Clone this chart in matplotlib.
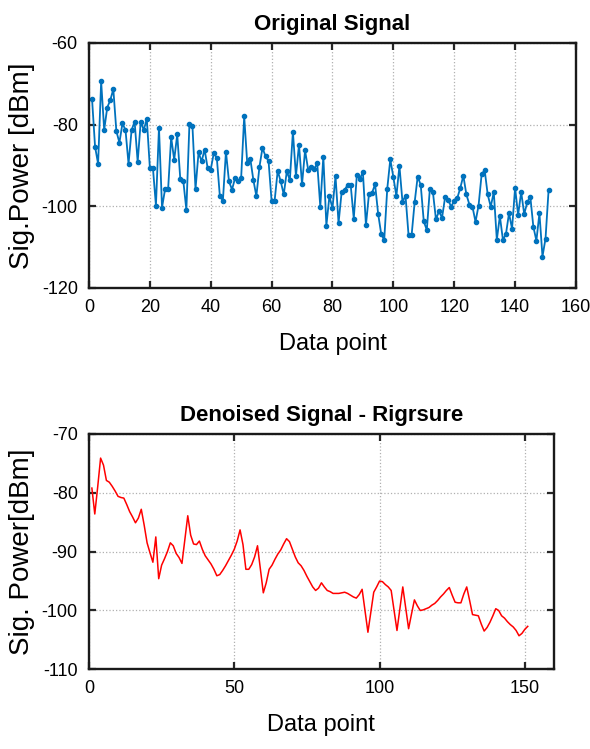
import numpy as np
import matplotlib
matplotlib.use('Agg')
from matplotlib import pyplot as plt

plt.rcParams['font.family'] = ['Liberation Sans', 'DejaVu Sans']
plt.rcParams['axes.unicode_minus'] = False

# raw measurements (dBm), points 1..151
original = [-73.6, -85.4, -89.6, -69.4, -81.3, -75.8, -74.0, -71.3, -81.6, -84.4,
            -79.7, -81.3, -89.6, -81.3, -79.3, -89.1, -79.3, -81.3, -78.6, -90.5,
            -90.5, -99.8, -80.7, -100.3, -95.8, -95.8, -83.1, -88.6, -82.4, -93.3,
            -93.8, -100.9, -79.9, -80.4, -95.8, -86.8, -89.0, -86.1, -90.7, -91.0,
            -87.0, -88.1, -97.5, -98.6, -86.6, -93.9, -95.9, -93.1, -93.9, -93.0,
            -78.0, -89.5, -88.3, -93.5, -97.5, -90.4, -85.7, -87.7, -88.9, -98.7,
            -98.6, -91.3, -93.9, -97.1, -91.4, -93.6, -81.7, -92.6, -84.9, -94.6,
            -86.3, -91.0, -90.4, -90.8, -89.5, -100.1, -87.8, -104.7, -97.5, -100.5,
            -92.6, -104.1, -96.6, -96.0, -94.7, -94.9, -103.0, -92.4, -93.2, -91.7,
            -104.6, -96.9, -96.7, -94.6, -101.8, -106.7, -108.3, -95.7, -88.5, -92.8,
            -97.5, -90.1, -98.9, -97.4, -107.1, -107.1, -99.0, -92.7, -94.8, -103.7,
            -105.8, -95.7, -96.5, -103.2, -101.2, -102.8, -97.8, -98.4, -100.1, -98.6,
            -98.0, -95.5, -92.5, -97.1, -99.6, -100.1, -103.8, -99.8, -92.2, -91.1,
            -97.1, -100.1, -96.5, -108.2, -102.4, -108.2, -106.8, -101.7, -105.5, -95.5,
            -102.1, -96.5, -101.9, -99.0, -97.6, -105.0, -108.4, -101.7, -112.3, -107.9,
            -96.1]

# wavelet denoised (rigrsure threshold)
denoised = [-79.2, -83.6, -79.0, -74.1, -75.3, -77.9, -78.2, -78.9, -79.7, -80.6,
            -80.8, -80.9, -82.0, -83.2, -84.1, -85.1, -84.3, -82.8, -85.5, -88.5,
            -90.2, -91.8, -87.5, -94.6, -92.3, -91.2, -90.0, -88.5, -89.0, -90.3,
            -91.0, -92.0, -88.0, -83.9, -87.2, -88.7, -88.8, -88.2, -89.6, -90.7,
            -91.4, -92.1, -93.0, -94.1, -93.9, -93.2, -92.4, -91.5, -90.6, -89.6,
            -88.2, -86.3, -88.8, -93.0, -93.0, -92.2, -90.9, -89.0, -93.0, -97.0,
            -95.3, -93.0, -92.3, -91.3, -90.4, -89.7, -88.7, -87.8, -88.3, -89.6,
            -90.9, -91.9, -92.4, -93.2, -94.2, -95.1, -96.0, -96.6, -96.2, -95.3,
            -96.0, -96.6, -96.8, -97.1, -97.1, -97.1, -97.0, -96.9, -97.1, -97.4,
            -97.7, -97.9, -97.3, -96.4, -100.0, -103.7, -100.3, -96.9, -96.0, -95.0,
            -95.1, -95.6, -96.0, -96.6, -100.0, -103.4, -99.7, -96.0, -99.6, -103.1,
            -100.6, -98.2, -99.2, -100.0, -99.9, -99.7, -99.5, -99.1, -98.8, -98.3,
            -97.7, -97.2, -96.6, -96.1, -97.4, -98.6, -98.7, -98.7, -97.2, -96.0,
            -98.3, -100.7, -100.8, -100.9, -102.3, -103.5, -102.9, -102.0, -100.9, -99.7,
            -100.0, -100.9, -101.3, -101.9, -102.4, -102.8, -103.4, -104.3, -103.9, -103.2,
            -102.7]

points = np.arange(1, len(original) + 1)

fig = plt.figure(figsize=(5.9, 7.49), dpi=100)
ax1 = fig.add_axes([0.1508, 0.6155, 0.8254, 0.3271])
ax2 = fig.add_axes([0.1508, 0.1064, 0.788, 0.3142])


def matlab_style(ax):
    ax.grid(True, color='#b0b0b0', linestyle=':', linewidth=0.9)
    ax.tick_params(direction='in', top=True, right=True, length=5, width=1.6,
                   labelsize=13, color='#262626', pad=8)
    for s in ax.spines.values():
        s.set_linewidth(1.7)
        s.set_color('#1a1a1a')


ax1.plot(points, original, color='#0072BD', marker='.', markersize=6, linewidth=1.3)
ax1.set_xlim(0, 160)
ax1.set_ylim(-120, -60)
ax1.set_xticks([0, 20, 40, 60, 80, 100, 120, 140, 160])
ax1.set_yticks([-120, -100, -80, -60])
ax1.set_title('Original Signal', fontsize=16, fontweight='bold', pad=9)
ax1.set_xlabel('Data point', fontsize=17, labelpad=12)
ax1.set_ylabel('Sig.Power [dBm]', fontsize=20, labelpad=5)
matlab_style(ax1)

ax2.plot(points, denoised, color='red', linewidth=1.1)
ax2.set_xlim(0, 160)
ax2.set_ylim(-110, -70)
ax2.set_xticks([0, 50, 100, 150])
ax2.set_yticks([-110, -100, -90, -80, -70])
ax2.set_title('Denoised Signal - Rigrsure', fontsize=16, fontweight='bold', pad=9)
ax2.set_xlabel('Data point', fontsize=17, labelpad=12)
ax2.set_ylabel('Sig. Power[dBm]', fontsize=20, labelpad=5)
matlab_style(ax2)

fig.savefig('out.png', dpi=100)
